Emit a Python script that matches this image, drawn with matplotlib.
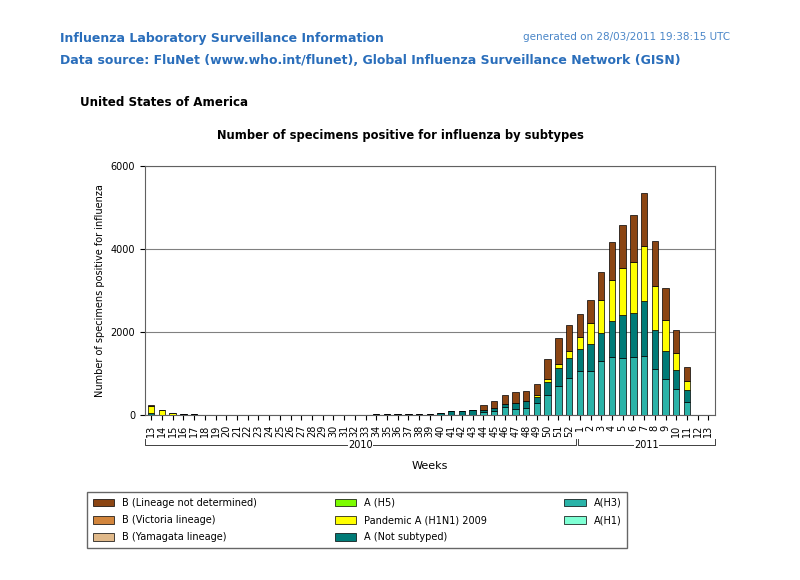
import numpy as np
import matplotlib.pyplot as plt
from matplotlib.patches import Patch

# Недели: 2010 (13-52) и 2011 (1-13)
weeks = [str(w) for w in range(13, 53)] + [str(w) for w in range(1, 14)]

h3_cum = [0.0, 0.0, 0.0, 0.0, 0.07, 0.10, 0.20, 0.14, 0.16, 0.28, 0.48, 0.70, 0.88,
          1.07, 1.07, 1.29, 1.41, 1.37, 1.39, 1.43, 1.10, 0.86, 0.62, 0.32, 0, 0]
nots_cum = [0.05, 0.10, 0.10, 0.13, 0.12, 0.18, 0.26, 0.30, 0.34, 0.44, 0.79, 1.14, 1.37,
            1.60, 1.71, 1.97, 2.27, 2.41, 2.47, 2.75, 2.05, 1.55, 1.08, 0.60, 0, 0]
pand_cum = [0.05, 0.10, 0.10, 0.13, 0.12, 0.18, 0.26, 0.30, 0.34, 0.48, 0.86, 1.23, 1.55,
            1.89, 2.21, 2.77, 3.25, 3.55, 3.70, 4.07, 3.11, 2.29, 1.50, 0.82, 0, 0]
total = [0.05, 0.10, 0.10, 0.13, 0.23, 0.34, 0.47, 0.55, 0.58, 0.75, 1.35, 1.86, 2.17,
         2.43, 2.77, 3.45, 4.18, 4.59, 4.82, 5.36, 4.19, 3.07, 2.05, 1.15, 0, 0]

# Весна-лето 2010 (недели 13-39)
early_nots = [40, 10, 10, 25, 15, 5, 5, 5, 0, 0, 0, 0, 0, 0, 0, 0, 0, 10,
              5, 5, 5, 20, 20, 25, 30, 35, 35]
early_pand = [170, 100, 40, 5, 5, 0, 0, 0, 0, 0, 0, 0, 0, 0, 0, 0, 0, 0,
              0, 0, 0, 0, 0, 0, 0, 0, 0]
early_b = [20, 10, 10, 5, 0, 0, 0, 0, 0, 0, 0, 0, 0, 0, 0, 0, 0, 0,
           0, 0, 0, 0, 0, 0, 0, 0, 0]

h3 = np.array([0] * 27 + [v * 1000 for v in h3_cum])
nots = np.array(early_nots + [(b - a) * 1000 for a, b in zip(h3_cum, nots_cum)])
pand = np.array(early_pand + [(b - a) * 1000 for a, b in zip(nots_cum, pand_cum)])
blin = np.array(early_b + [(b - a) * 1000 for a, b in zip(pand_cum, total)])

c_b = '#8b4513'
c_vic = '#d2853c'
c_yam = '#e0b98a'
c_h5 = '#7cfc00'
c_pand = '#ffff00'
c_nots = '#007b77'
c_h3 = '#2ab3a8'
c_h1 = '#7fffd4'

fig = plt.figure(figsize=(8, 5.8), dpi=100)
ax = fig.add_axes([0.181, 0.2845, 0.7125, 0.429])

x = np.arange(len(weeks))
kw = dict(width=0.6, edgecolor='black', linewidth=0.5, zorder=3)
ax.bar(x, h3, color=c_h3, **kw)
ax.bar(x, nots, bottom=h3, color=c_nots, **kw)
ax.bar(x, pand, bottom=h3 + nots, color=c_pand, **kw)
ax.bar(x, blin, bottom=h3 + nots + pand, color=c_b, **kw)

ax.set_xlim(-0.6, len(weeks) - 0.4)
ax.set_ylim(0, 6000)
ax.set_yticks([0, 2000, 4000, 6000])
ax.set_xticks(x)
ax.set_xticklabels(weeks, rotation=90, fontsize=7)
ax.tick_params(axis='y', labelsize=7)
ax.grid(axis='y', color='#808080', linewidth=0.8, zorder=0)
for s in ax.spines.values():
    s.set_color('#606060')
ax.set_ylabel('Number of specimens positive for influenza', fontsize=7)
ax.set_xlabel('Weeks', fontsize=8, labelpad=17)

# Скобки годов
tr = ax.get_xaxis_transform()
yb = -0.12
for x0, x1, lab in [(-0.6, 39.6, '2010'), (39.8, len(weeks) - 0.4, '2011')]:
    mid = (x0 + x1) / 2
    ax.plot([x0, x0, mid - 1.2], [yb + 0.025, yb, yb], color='#404040', lw=0.7,
            transform=tr, clip_on=False)
    ax.plot([mid + 1.2, x1, x1], [yb, yb, yb + 0.025], color='#404040', lw=0.7,
            transform=tr, clip_on=False)
    ax.text(mid, yb, lab, transform=tr, ha='center', va='center', fontsize=7)

# Заголовки
blue = '#2a6ebb'
fig.text(0.075, 0.934, 'Influenza Laboratory Surveillance Information', color=blue,
         fontsize=9, fontweight='bold', va='center')
fig.text(0.654, 0.936, 'generated on 28/03/2011 19:38:15 UTC', color='#4a86c8',
         fontsize=7.5, va='center')
fig.text(0.075, 0.895, 'Data source: FluNet (www.who.int/flunet), Global Influenza Surveillance Network (GISN)',
         color=blue, fontsize=9, fontweight='bold', va='center')
fig.text(0.1, 0.824, 'United States of America', fontsize=8.6, fontweight='bold', va='center')
fig.text(0.5, 0.766, 'Number of specimens positive for influenza by subtypes',
         fontsize=8.3, fontweight='bold', ha='center', va='center')

handles = [Patch(facecolor=c, edgecolor='black', linewidth=0.5) for c in
           [c_b, c_vic, c_yam, c_h5, c_pand, c_nots, c_h3, c_h1]]
labels = ['B (Lineage not determined)', 'B (Victoria lineage)', 'B (Yamagata lineage)',
          'A (H5)', 'Pandemic A (H1N1) 2009', 'A (Not subtyped)', 'A(H3)', 'A(H1)']
handles.insert(8, Patch(visible=False))
labels.insert(8, '')
leg = fig.legend(handles, labels, ncol=3, loc='upper left',
                 fontsize=7, frameon=True, fancybox=False, edgecolor='#404040',
                 handlelength=2.2, handleheight=0.8, columnspacing=8, labelspacing=0.75,
                 borderpad=0.6)
leg.set_bbox_to_anchor((0.1025, 0.16), transform=fig.transFigure)

fig.savefig('out.png', dpi=100, facecolor='white')
